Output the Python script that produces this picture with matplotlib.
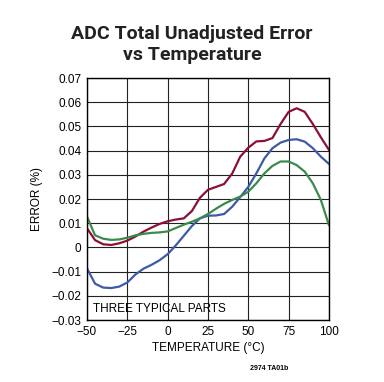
import matplotlib
matplotlib.use("Agg")
import matplotlib.pyplot as plt
from matplotlib import font_manager

# pick a narrow font if we have it
names = {f.name for f in font_manager.fontManager.ttflist}
FONT = "Liberation Sans Narrow" if "Liberation Sans Narrow" in names else "Liberation Sans"
plt.rcParams['font.family'] = [FONT, 'DejaVu Sans']

# temperature (°C)
temp = [-50, -45, -40, -35, -30, -25, -20, -15, -10, -5, 0, 5, 10, 15, 20, 25,
        30, 35, 40, 45, 50, 55, 60, 65, 70, 75, 80, 85, 90, 95, 100]

# error (%) for three parts
red = [0.0079, 0.0030, 0.0013, 0.0010, 0.0017, 0.0028, 0.0045, 0.0065, 0.0082, 0.0097,
       0.0108, 0.0115, 0.0120, 0.0150, 0.0205, 0.0238, 0.0250, 0.0262, 0.0305, 0.0375,
       0.0412, 0.0438, 0.0440, 0.0452, 0.0510, 0.0560, 0.0575, 0.0560, 0.0510, 0.0455,
       0.0403]
blue = [-0.0087, -0.0150, -0.0166, -0.0168, -0.0162, -0.0145, -0.0112, -0.0088, -0.0072,
        -0.0053, -0.0028, 0.0008, 0.0048, 0.0088, 0.0120, 0.0131, 0.0132, 0.0138, 0.0168,
        0.0208, 0.0250, 0.0306, 0.0368, 0.0410, 0.0433, 0.0444, 0.0447, 0.0437, 0.0410,
        0.0375, 0.0345]
green = [0.0127, 0.0050, 0.0036, 0.0031, 0.0033, 0.0040, 0.0050, 0.0056, 0.0060, 0.0062,
         0.0066, 0.0080, 0.0094, 0.0106, 0.0120, 0.0138, 0.0160, 0.0180, 0.0196, 0.0210,
         0.0230, 0.0265, 0.0306, 0.0337, 0.0355, 0.0355, 0.0340, 0.0313, 0.0265, 0.0196,
         0.0092]

xticks = [-50, -25, 0, 25, 50, 75, 100]
yticks = [-0.03, -0.02, -0.01, 0, 0.01, 0.02, 0.03, 0.04, 0.05, 0.06, 0.07]
ylabels = ["\u22120.03", "\u22120.02", "\u22120.01", "0", "0.01", "0.02", "0.03",
           "0.04", "0.05", "0.06", "0.07"]
xlabels = ["\u221250", "\u221225", "0", "25", "50", "75", "100"]

fig = plt.figure(figsize=(3.84, 3.82), dpi=100)
ax = fig.add_axes([0.2266, 0.1623, 0.630, 0.6335])

ax.plot(temp, red, color="#8c0f35", lw=1.6, solid_capstyle="round", solid_joinstyle="round")
ax.plot(temp, blue, color="#3d5aa8", lw=1.6, solid_capstyle="round", solid_joinstyle="round")
ax.plot(temp, green, color="#3a8a4c", lw=1.6, solid_capstyle="round", solid_joinstyle="round")

ax.set_xlim(-50, 100)
ax.set_ylim(-0.03, 0.07)
ax.set_xticks(xticks)
ax.set_xticklabels(xlabels, fontsize=8.5)
ax.set_yticks(yticks)
ax.set_yticklabels(ylabels, fontsize=8.5)
ax.tick_params(length=0, pad=4)
ax.grid(True, color="#222222", lw=0.8)
ax.set_axisbelow(True)
for s in ax.spines.values():
    s.set_linewidth(1.0)

ax.set_xlabel("TEMPERATURE (\u00b0C)", fontsize=8.5, labelpad=3)
ax.set_ylabel("ERROR (%)", fontsize=8.5, labelpad=6)
ax.text(0.025, 0.045, "THREE TYPICAL PARTS", transform=ax.transAxes, fontsize=8.5,
        va="center", ha="left")

fig.text(0.5, 0.884, "ADC Total Unadjusted Error\nvs Temperature", ha="center",
         va="center", fontsize=14, fontweight="bold", linespacing=1.2, color="#222222",
         family=["Roboto", "DejaVu Sans"])
fig.text(0.70, 0.032, "2974 TA01b", fontsize=5, fontweight="bold", ha="center")

fig.savefig("out.png", dpi=100)
